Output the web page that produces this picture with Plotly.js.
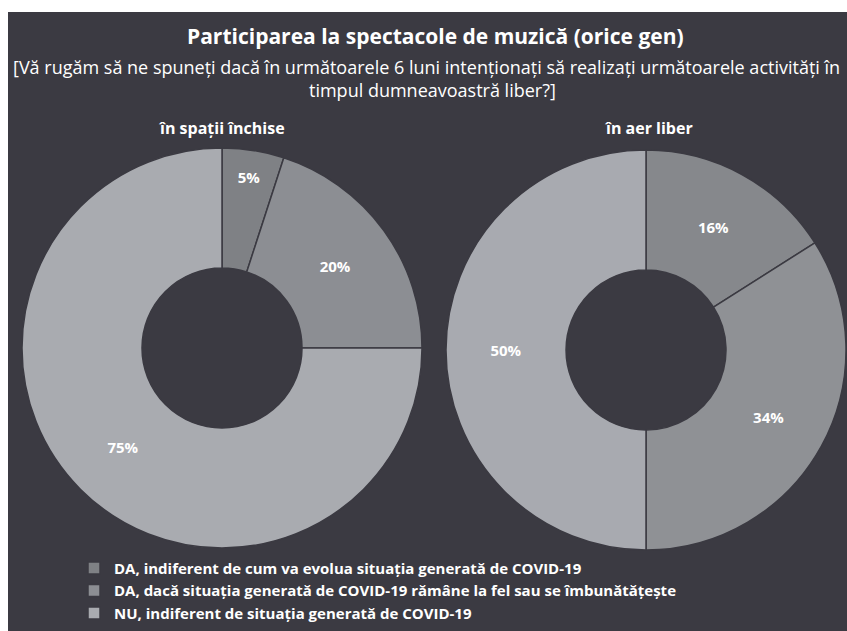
<!DOCTYPE html>
<html>
<head>
<meta charset="utf-8">
<script src="https://cdn.plot.ly/plotly-3.0.1.min.js"></script>
<style>
html,body{margin:0;padding:0;background:#ffffff;}
#chart{position:absolute;left:8px;top:12px;width:839px;height:619px;}
</style>
</head>
<body>
<div id="chart"></div>
<script>
const categories = [
  "DA, indiferent de cum va evolua situația generată de COVID-19",
  "DA, dacă situația generată de COVID-19 rămâne la fel sau se îmbunătățește",
  "NU, indiferent de situația generată de COVID-19"
];
const seriesNames = ["în spații închise", "în aer liber"];
const valuesIndoor = [5, 20, 75];
const valuesOutdoor = [16, 34, 50];
const colorsIndoor = ["#7f8185", "#8c8e93", "#a9abb0"];
const colorsOutdoor = ["#86888c", "#8f9195", "#a8aab0"];
const titleText = "Participarea la spectacole de muzică (orice gen)";
const subtitleLines = [
  "[Vă rugăm să ne spuneți dacă în următoarele 6 luni intenționați să realizați următoarele activități în",
  "timpul dumneavoastră liber?]"
];

const bg = "#3b3a42";
const font = "'Open Sans', Lato, sans-serif";
const W = 839, H = 619;

const common = {
  type: "pie",
  labels: categories,
  hole: 0.4,
  sort: false,
  direction: "clockwise",
  rotation: 0,
  textposition: "inside",
  insidetextorientation: "horizontal",
  texttemplate: "%{value}%",
  textfont: {color: "#ffffff", size: 15, family: font, weight: "bold"},
  hoverinfo: "label+value"
};

const data = [
  Object.assign({}, common, {
    name: seriesNames[0],
    values: valuesIndoor,
    marker: {colors: colorsIndoor, line: {color: bg, width: 1.5}},
    domain: {x: [14/W, 414/W], y: [83/H, 483/H]}
  }),
  Object.assign({}, common, {
    name: seriesNames[1],
    values: valuesOutdoor,
    marker: {colors: colorsOutdoor, line: {color: bg, width: 1.5}},
    domain: {x: [438/W, 838/W], y: [81/H, 481/H]}
  })
];

function ann(text, xpx, ypx, size, bold) {
  return {text: text, x: xpx / W, y: 1 - ypx / H, xref: "paper", yref: "paper",
    xanchor: "center", yanchor: "middle", showarrow: false,
    font: {size: size, family: font, weight: bold ? "bold" : "normal", color: "#ffffff"}};
}

const layout = {
  width: W,
  height: H,
  paper_bgcolor: bg,
  plot_bgcolor: bg,
  margin: {l: 0, r: 0, t: 0, b: 0},
  font: {family: font, color: "#ffffff"},
  showlegend: true,
  legend: {
    x: 66 / W, y: 0.002, xanchor: "left", yanchor: "bottom",
    orientation: "v",
    bgcolor: "rgba(0,0,0,0)",
    font: {size: 15, color: "#ffffff", family: font, weight: "bold"},
    itemwidth: 30,
    tracegroupgap: 0
  },
  annotations: [
    ann(titleText, 427, 24, 21, true),
    ann(subtitleLines[0], 418, 55, 18, false),
    ann(subtitleLines[1], 424, 78, 18, false),
    ann(seriesNames[0], 214, 116, 16, true),
    ann(seriesNames[1], 641, 116, 16, true)
  ]
};

Plotly.newPlot("chart", data, layout, {displayModeBar: false, responsive: false});
</script>
</body>
</html>
